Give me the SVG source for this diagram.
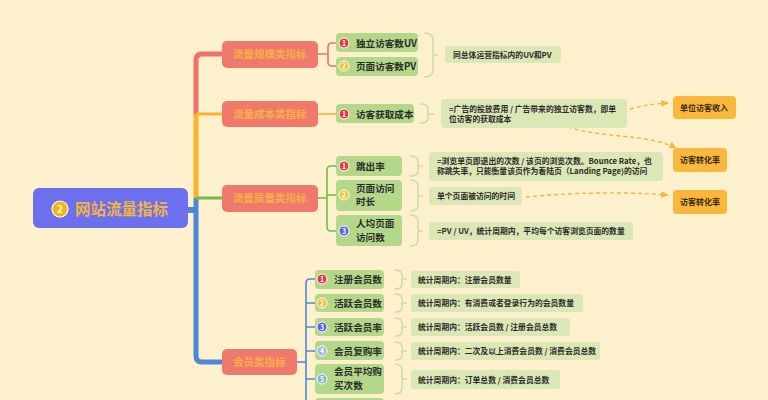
<svg xmlns="http://www.w3.org/2000/svg" width="768" height="400" viewBox="0 0 768 400">
<defs>
<style>
text{font-family:"Noto Sans CJK SC","Noto Sans",sans-serif;}
.cat rect{fill:#EF7A6B;}
.cat text{fill:#F9AE4A;font-size:10.5px;font-weight:bold;}
.sub rect{fill:#B3D88A;}
.sub circle{stroke:#fff;stroke-width:1;}
.sub text{fill:#2b2b2b;font-size:9.6px;font-weight:bold;}
.desc rect{fill:#DBE7B5;}
.desc text{fill:#2b2b2b;font-size:7.8px;font-weight:bold;}
.org rect{fill:#F9B73C;}
.org text{fill:#3a2a10;font-size:8px;font-weight:bold;}
.sub text.num{fill:#fff;font-size:7px;font-weight:bold;text-anchor:middle;}
.brace{fill:none;stroke:#CFD9A6;stroke-width:1.5;}
.dash{fill:none;stroke:#F6B53E;stroke-width:1.4;stroke-dasharray:4 3;}
</style>
<marker id="arr" viewBox="0 0 10 10" refX="8" refY="5" markerWidth="6" markerHeight="6" orient="auto">
<path d="M0,1 L9,5 L0,9 z" fill="#F6B53E"/>
</marker>
</defs>
<rect width="768" height="400" fill="#FCF0CD"/>

<g id="connectors">
<path d="M188 210 H197" stroke="#4C88D6" stroke-width="6" fill="none"/>
<path d="M222 54 H202 Q196 54 196 60 V115" stroke="#F0716A" stroke-width="5" fill="none"/>
<path d="M196 114 V199" stroke="#FDB42A" stroke-width="5" fill="none"/>
<path d="M196 114 H222" stroke="#FDB42A" stroke-width="3" fill="none"/>
<path d="M196 198 V356 Q196 362 202 362 H222" stroke="#4C88D6" stroke-width="5" fill="none"/>
<path d="M196 198 H222" stroke="#6DBE45" stroke-width="3" fill="none"/>
<path d="M318 54 H328 M336 43 H332 Q328 43 328 47 V62 Q328 66 332 66 H336" stroke="#F0716A" stroke-width="1.6" fill="none"/>
<path d="M318 114 H336" stroke="#FDB42A" stroke-width="1.6" fill="none"/>
<path d="M318 198 H327 M336 166 H331 Q327 166 327 170 V227 Q327 231 331 231 H336 M327 195 H336" stroke="#6DBE45" stroke-width="1.6" fill="none"/>
<path d="M297 362 H306 M315 279 H310 Q306 279 306 283 V400 M306 303 H315 M306 327 H315 M306 351 H315 M306 379 H315" stroke="#4C88D6" stroke-width="1.6" fill="none"/>
<path class="brace" d="M424 33 Q433 33 433 40 V70 Q433 77 424 77 M433 55 H438"/>
<path class="brace" d="M420 104 Q428 104 428 109 V118 Q428 123 420 123 M428 114 H434"/>
<path class="brace" d="M410 156 Q418 156 418 161 V171 Q418 176 410 176 M418 166 H423"/>
<path class="brace" d="M410 180 Q418 180 418 186 V205 Q418 211 410 211 M418 196 H423"/>
<path class="brace" d="M410 215 Q418 215 418 221 V240 Q418 246 410 246 M418 231 H423"/>
<path class="brace" d="M395 270 Q402 270 402 275 V284 Q402 289 395 289 M402 279 H407"/>
<path class="brace" d="M395 294 Q402 294 402 299 V307 Q402 312 395 312 M402 303 H407"/>
<path class="brace" d="M395 318 Q402 318 402 323 V331 Q402 336 395 336 M402 327 H407"/>
<path class="brace" d="M395 342 Q402 342 402 347 V355 Q402 360 395 360 M402 351 H407"/>
<path class="brace" d="M395 364 Q402 364 402 370 V388 Q402 394 395 394 M402 379 H407"/>
<path class="dash" d="M630 109 Q648 104 668 103" marker-end="url(#arr)"/>
<path class="dash" d="M568 127 C600 138 650 134 676 148" marker-end="url(#arr)"/>
<path class="dash" d="M526 197 Q600 190 668 195" marker-end="url(#arr)"/>
</g>

<g id="root">
<rect x="33" y="188" width="155" height="40" rx="6" fill="#6C6FEE"/>
<circle cx="60" cy="209" r="8" fill="#F6B40E" stroke="#fff" stroke-width="1.2"/>
<text x="60" y="213" fill="#fff" font-size="10" font-weight="bold" text-anchor="middle">2</text>
<text x="75" y="215" fill="#F2B443" font-size="15.5" font-weight="bold">网站流量指标</text>
</g>

<g id="cat-scale" class="cat"><rect x="222" y="41" width="96" height="27" rx="5"/><text x="233" y="58">流量规模类指标</text></g>
<g id="cat-cost" class="cat"><rect x="222" y="101" width="96" height="26" rx="5"/><text x="233" y="118">流量成本类指标</text></g>
<g id="cat-quality" class="cat"><rect x="222" y="185" width="96" height="27" rx="5"/><text x="233" y="202">流量质量类指标</text></g>
<g id="cat-member" class="cat"><rect x="222" y="349" width="75" height="26" rx="5"/><text x="233" y="366">会员类指标</text></g>

<g id="uv" class="sub"><rect x="336" y="33" width="82" height="19" rx="4"/><circle cx="344" cy="43" r="5" fill="#E23A3E"/><text class="num" x="344" y="45.5">1</text><text x="356" y="46.5">独立访客数UV</text></g>
<g id="pv" class="sub"><rect x="336" y="57" width="82" height="19" rx="4"/><circle cx="344" cy="66" r="5" fill="#F6C136"/><text class="num" x="344" y="68.5">2</text><text x="356" y="69.5">页面访客数PV</text></g>
<g id="d-uvpv" class="desc"><rect x="445" y="46" width="116" height="17" rx="3"/><text x="453" y="57.5">同总体运营指标内的UV和PV</text></g>

<g id="cac" class="sub"><rect x="336" y="104" width="78" height="19" rx="4"/><circle cx="344" cy="114" r="5" fill="#E23A3E"/><text class="num" x="344" y="116.5">1</text><text x="356" y="117.5">访客获取成本</text></g>
<g id="d-cac" class="desc"><rect x="441" y="99" width="186" height="29" rx="4"/><text x="449" y="111.5">=广告的投放费用 / 广告带来的独立访客数，即单</text><text x="449" y="122">位访客的获取成本</text></g>

<g id="bounce" class="sub"><rect x="336" y="156" width="66" height="20" rx="4"/><circle cx="344" cy="166" r="5" fill="#E23A3E"/><text class="num" x="344" y="168.5">1</text><text x="356" y="169.5">跳出率</text></g>
<g id="duration" class="sub"><rect x="336" y="180" width="66" height="31" rx="4"/><circle cx="344" cy="195" r="5" fill="#F6C136"/><text class="num" x="344" y="197.5">2</text><text x="356" y="191.5">页面访问</text><text x="356" y="205">时长</text></g>
<g id="pages" class="sub"><rect x="336" y="215" width="66" height="31" rx="4"/><circle cx="344" cy="231" r="5" fill="#5A5EEA"/><text class="num" x="344" y="233.5">3</text><text x="356" y="227">人均页面</text><text x="356" y="240.5">访问数</text></g>
<g id="d-bounce" class="desc"><rect x="429" y="152" width="234" height="29" rx="4"/><text x="437" y="163.5">=浏览单页即退出的次数 / 该页的浏览次数。Bounce Rate，也</text><text x="437" y="174">称跳失率，只能衡量该页作为着陆页（Landing Page)的访问</text></g>
<g id="d-duration" class="desc"><rect x="429" y="187" width="93" height="18" rx="3"/><text x="437" y="199">单个页面被访问的时间</text></g>
<g id="d-pages" class="desc"><rect x="429" y="222" width="204" height="18" rx="3"/><text x="437" y="234">=PV / UV，统计周期内，平均每个访客浏览页面的数量</text></g>

<g id="o-income" class="org"><rect x="673" y="96" width="63" height="23" rx="4"/><text x="680" y="110.5">单位访客收入</text></g>
<g id="o-conv1" class="org"><rect x="673" y="148" width="54" height="24" rx="4"/><text x="680" y="163">访客转化率</text></g>
<g id="o-conv2" class="org"><rect x="673" y="190" width="54" height="24" rx="4"/><text x="680" y="205">访客转化率</text></g>

<g id="m1" class="sub"><rect x="315" y="270" width="69" height="19" rx="4"/><circle cx="322" cy="279" r="5" fill="#E23A3E"/><text class="num" x="322" y="281.5">1</text><text x="334" y="282.5">注册会员数</text></g>
<g id="m2" class="sub"><rect x="315" y="294" width="69" height="18" rx="4"/><circle cx="322" cy="303" r="5" fill="#F6C136"/><text class="num" x="322" y="305.5">2</text><text x="334" y="306.5">活跃会员数</text></g>
<g id="m3" class="sub"><rect x="315" y="318" width="69" height="18" rx="4"/><circle cx="322" cy="327" r="5" fill="#5A5EEA"/><text class="num" x="322" y="329.5">3</text><text x="334" y="330.5">活跃会员率</text></g>
<g id="m4" class="sub"><rect x="315" y="341" width="69" height="19" rx="4"/><circle cx="322" cy="351" r="5" fill="#9FB6E2"/><text class="num" x="322" y="353.5">4</text><text x="334" y="354.5">会员复购率</text></g>
<g id="m5" class="sub"><rect x="315" y="364" width="69" height="30" rx="4"/><circle cx="322" cy="379" r="5" fill="#7DB4E0"/><text class="num" x="322" y="381.5">5</text><text x="334" y="375">会员平均购</text><text x="334" y="388.5">买次数</text></g>
<g id="m6" class="sub"><rect x="315" y="398" width="69" height="20" rx="4"/></g>
<g id="dm1" class="desc"><rect x="411" y="271" width="109" height="17" rx="3"/><text x="418" y="282.5">统计周期内：注册会员数量</text></g>
<g id="dm2" class="desc"><rect x="411" y="294" width="172" height="18" rx="3"/><text x="418" y="306">统计周期内：有消费或者登录行为的会员数量</text></g>
<g id="dm3" class="desc"><rect x="411" y="318" width="159" height="18" rx="3"/><text x="418" y="330">统计周期内：活跃会员数 /  注册会员总数</text></g>
<g id="dm4" class="desc"><rect x="411" y="342" width="189" height="18" rx="3"/><text x="418" y="354">统计周期内：二次及以上消费会员数 / 消费会员总数</text></g>
<g id="dm5" class="desc"><rect x="411" y="370" width="149" height="19" rx="3"/><text x="418" y="382.5">统计周期内：订单总数 / 消费会员总数</text></g>
</svg>
